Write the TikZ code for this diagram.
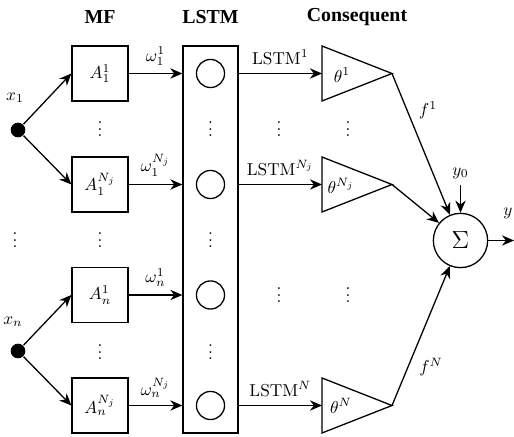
\documentclass[tikz,border=0pt]{standalone}
\usepackage{fontspec}
\newfontfamily\titlefont{Liberation Serif}
\usetikzlibrary{arrows.meta,calc}
\begin{document}
\begin{tikzpicture}[x=0.58pt,y=-0.58pt, line width=0.75pt,
  >={Stealth[length=7pt,width=6pt]},
  mfbox/.style={draw, minimum width=32.5pt, minimum height=32pt, inner sep=0pt},
  cell/.style={draw, circle, minimum size=16.3pt, inner sep=0pt},
  title/.style={font=\titlefont\bfseries\fontsize{11.5}{13}\selectfont},
  inpt/.style={fill, circle, minimum size=8.5pt, inner sep=0pt},
  vd/.style={inner sep=0pt}]
\useasboundingbox (0,0) rectangle (514,437);

% titles
\node[title] (tmf) at (100,17) {MF};
\node[title] (tlstm) at (210.5,17) {LSTM};
\node[title] (tcon) at (357,17) {Consequent};

% inputs
\node[inpt] (x1) at (18,130) {};
\node[inpt] (xn) at (18,351) {};
\node (lx1) at (15,98) {$x_1$};
\node (lxn) at (13,322) {$x_n$};

% MF boxes
\node[mfbox] (a11) at (100,73.5) {$A_1^1$};
\node[mfbox] (a1N) at (100,184.5) {$A_1^{N_j}$};
\node[mfbox] (an1) at (100,295) {$A_n^1$};
\node[mfbox] (anN) at (100,405.5) {$A_n^{N_j}$};

% LSTM block
\node[draw, minimum width=31.9pt, minimum height=224.5pt, inner sep=0pt] (lstm) at (210.5,239.5) {};
\node[cell] (c1) at (210.5,73.5) {};
\node[cell] (c2) at (210.5,184.5) {};
\node[cell] (c3) at (210.5,295) {};
\node[cell] (c4) at (210.5,405.5) {};

% triangles
\coordinate (t1in) at (322,73.5);  \coordinate (t1out) at (392,73.5);
\coordinate (t2in) at (322,184.5); \coordinate (t2out) at (392,184.5);
\coordinate (t3in) at (322,405.5); \coordinate (t3out) at (392,405.5);
\draw (322,46) -- (t1out) -- (322,101) -- cycle;
\draw (322,157) -- (t2out) -- (322,212) -- cycle;
\draw (322,378) -- (t3out) -- (322,433) -- cycle;
\node (th1) at (342,75) {$\theta^1$};
\node (th2) at (341,186) {$\theta^{N_j}$};
\node (th3) at (341,406) {$\theta^N$};

% sum
\node[draw, circle, minimum size=31.5pt, inner sep=0pt] (sum) at (460.5,240.5) {\Large$\Sigma$};
\node (y0) at (460.5,173) {$y_0$};
\coordinate (yend) at (514,240.5);
\node (ylab) at (508,213) {$y$};

% dots
\foreach \x/\y/\n in {15/235/d1, 100/124/d2, 100/235/d3, 100/347/d4, 210.5/124/d5, 210.5/235/d6, 210.5/347/d7, 279/124/d8, 348/124/d9, 279/290/d10, 348/290/d11}
  \node[vd] (\n) at (\x,\y) {$\vdots$};

% connectors
\draw[->] (x1) -- (a11.west);
\draw[->] (x1) -- (a1N.west);
\draw[->] (xn) -- (an1.west);
\draw[->] (xn) -- (anN.west);

\draw[->] (a11.east) -- node[above=1pt] {$\omega_1^1$} (a11.east -| lstm.west);
\draw[->] (a1N.east) -- node[above=1pt] {$\omega_1^{N_j}$} (a1N.east -| lstm.west);
\draw[->] (an1.east) -- node[above=1pt] {$\omega_n^1$} (an1.east -| lstm.west);
\draw[->] (anN.east) -- node[above=1pt] {$\omega_n^{N_j}$} (anN.east -| lstm.west);

\draw[->] (lstm.east |- c1) -- node[above=1pt] {$\mathrm{LSTM}^1$} (t1in);
\draw[->] (lstm.east |- c2) -- node[above=1pt] {$\mathrm{LSTM}^{N_j}$} (t2in);
\draw[->] (lstm.east |- c4) -- node[above=1pt] {$\mathrm{LSTM}^N$} (t3in);

\draw[->] (t1out) -- (sum);
\draw[->] (t2out) -- (sum);
\draw[->] (t3out) -- (sum);
\node (f1) at (428,110) {$f^1$};
\node (fN) at (431,367) {$f^N$};
\draw[->] (y0) -- (sum);
\draw[->] (sum) -- (yend);
\end{tikzpicture}
\end{document}
